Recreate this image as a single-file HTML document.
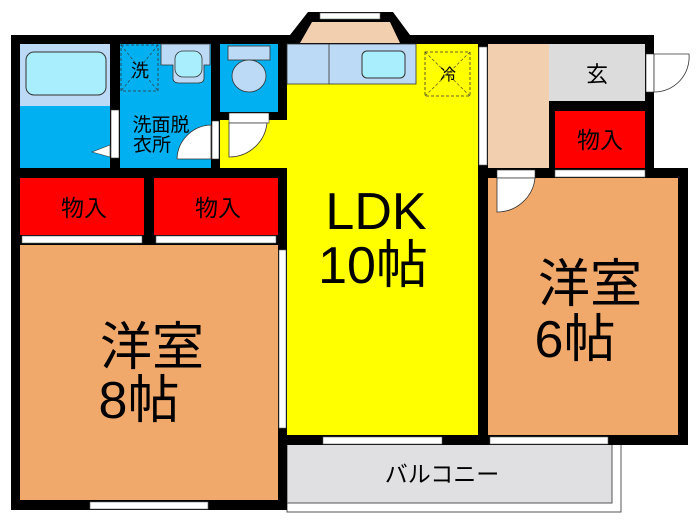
<!DOCTYPE html>
<html><head><meta charset="utf-8"><style>
body{margin:0;background:#fff;}
svg{display:block;font-family:"Liberation Sans","Noto Sans CJK JP",sans-serif;}
</style></head><body>
<svg width="700" height="525" viewBox="0 0 700 525" xmlns="http://www.w3.org/2000/svg">
<rect width="700" height="525" fill="#fff"/>
<rect x="287" y="440" width="334" height="72" fill="#fff" stroke="#555" stroke-width="1"/>
<rect x="287" y="440" width="325" height="63" fill="#e0e0e2" stroke="#555" stroke-width="1"/>
<rect x="11" y="35" width="643" height="143" fill="#000"/>
<rect x="11" y="35" width="276" height="475" fill="#000"/>
<rect x="280" y="35" width="208" height="410" fill="#000"/>
<rect x="478" y="168" width="210" height="277" fill="#000"/>
<polygon points="290,35 308,12 393,12 410,35" fill="#000"/>
<polygon points="300,43 312,22 390,22 400,43" fill="#f2cfae"/>
<rect x="320" y="13" width="60" height="6" fill="#fff" stroke="#666" stroke-width="0.6"/>
<rect x="20" y="44" width="90" height="124" fill="#00b0f0"/>
<rect x="20" y="44" width="90" height="62" fill="#bcd9f5"/>
<rect x="26" y="52" width="80" height="43" rx="8" fill="#a8eefc" stroke="#333" stroke-width="1"/>
<rect x="111" y="110" width="8" height="48" fill="#fff" stroke="#333" stroke-width="0.6"/>
<polygon points="110,145 92,152 110,157" fill="#fff" stroke="#333" stroke-width="0.6"/>
<rect x="120" y="44" width="91" height="124" fill="#00b0f0"/>
<rect x="121" y="45" width="37" height="46" fill="none" stroke="#333" stroke-width="0.8" stroke-dasharray="3,2"/>
<line x1="121" y1="45" x2="158" y2="91" stroke="#333" stroke-width="0.6" stroke-dasharray="3,2"/>
<line x1="158" y1="45" x2="121" y2="91" stroke="#333" stroke-width="0.6" stroke-dasharray="3,2"/>
<text x="140" y="77" font-size="18" text-anchor="middle" fill="#000">洗</text>
<path d="M161,44 H210 V65 H204 V78 Q204,83 198,83 H179 Q173,83 173,78 V65 H161 Z" fill="#bcd9f5" stroke="#333" stroke-width="0.8"/>
<rect x="175" y="51" width="27" height="26" rx="8" fill="#a8eefc" stroke="#333" stroke-width="0.8"/>
<text x="161" y="131" font-size="19" text-anchor="middle" fill="#000">洗面脱</text>
<text x="152" y="151" font-size="19" text-anchor="middle" fill="#000">衣所</text>
<path d="M211,125 A35,35 0 0 0 177,159 H211 Z" fill="#fff" stroke="#333" stroke-width="0.8"/>
<rect x="212" y="121" width="7" height="38" fill="#fff" stroke="#333" stroke-width="0.6"/>
<rect x="220" y="44" width="58" height="68" fill="#00b0f0"/>
<rect x="228" y="46" width="42" height="14" fill="#bcd9f5" stroke="#333" stroke-width="0.8"/>
<ellipse cx="249" cy="76" rx="17" ry="16" fill="#bcd9f5" stroke="#333" stroke-width="0.8"/>
<rect x="287" y="44" width="191" height="391" fill="#ffff00"/>
<rect x="220" y="120" width="67" height="48" fill="#ffff00"/>
<rect x="229" y="113" width="40" height="10" fill="#fff" stroke="#333" stroke-width="0.6"/>
<path d="M229,123 V157 A38,38 0 0 0 267,123 Z" fill="#fff" stroke="#333" stroke-width="0.8"/>
<rect x="287" y="44" width="129" height="40" fill="#bcd9f5" stroke="#333" stroke-width="0.8"/>
<line x1="329" y1="44" x2="329" y2="84" stroke="#333" stroke-width="0.8"/>
<rect x="362" y="51" width="43" height="27" rx="5" fill="#a8eefc" stroke="#333" stroke-width="1"/>
<rect x="425" y="52" width="45" height="44" fill="none" stroke="#333" stroke-width="0.8" stroke-dasharray="3,2"/>
<line x1="425" y1="52" x2="470" y2="96" stroke="#333" stroke-width="0.6" stroke-dasharray="3,2"/>
<line x1="470" y1="52" x2="425" y2="96" stroke="#333" stroke-width="0.6" stroke-dasharray="3,2"/>
<text x="448" y="80" font-size="16" text-anchor="middle" fill="#000">冷</text>
<text x="376" y="229" font-size="52" text-anchor="middle" fill="#000">LDK</text>
<text x="373" y="283" font-size="52" text-anchor="middle" fill="#000">10帖</text>
<rect x="479" y="47" width="8" height="118" fill="#fff" stroke="#666" stroke-width="0.6"/>
<rect x="488" y="44" width="61" height="124" fill="#f2cfae"/>
<rect x="549" y="44" width="96" height="57" fill="#dcdcdc"/>
<text x="597" y="82" font-size="22" text-anchor="middle" fill="#000">玄</text>
<rect x="646" y="54" width="8" height="38" fill="#fff" stroke="#333" stroke-width="0.6"/>
<path d="M654,54 H689 A35,35 0 0 1 654,92 Z" fill="#fff" stroke="#333" stroke-width="0.8"/>
<rect x="555" y="111" width="90" height="57" fill="#ff0000"/>
<text x="600" y="148" font-size="23" text-anchor="middle" fill="#000">物入</text>
<rect x="555" y="170" width="90" height="7" fill="#fff" stroke="#666" stroke-width="0.6"/>
<rect x="488" y="178" width="190" height="257" fill="#f0a96a"/>
<rect x="497" y="170" width="38" height="8" fill="#fff" stroke="#333" stroke-width="0.6"/>
<path d="M497,178 V212 A38,38 0 0 0 535,178 Z" fill="#fff" stroke="#333" stroke-width="0.8"/>
<text x="590" y="302" font-size="52" text-anchor="middle" fill="#000">洋室</text>
<text x="575" y="357" font-size="52" text-anchor="middle" fill="#000">6帖</text>
<rect x="20" y="178" width="124" height="57" fill="#ff0000"/>
<rect x="154" y="178" width="124" height="57" fill="#ff0000"/>
<text x="84" y="216" font-size="23" text-anchor="middle" fill="#000">物入</text>
<text x="218" y="216" font-size="23" text-anchor="middle" fill="#000">物入</text>
<rect x="22" y="236" width="120" height="7" fill="#fff" stroke="#666" stroke-width="0.6"/>
<rect x="156" y="236" width="120" height="7" fill="#fff" stroke="#666" stroke-width="0.6"/>
<rect x="20" y="245" width="258" height="255" fill="#f0a96a"/>
<text x="152" y="365" font-size="52" text-anchor="middle" fill="#000">洋室</text>
<text x="139" y="418" font-size="52" text-anchor="middle" fill="#000">8帖</text>
<rect x="279" y="250" width="7" height="178" fill="#fff" stroke="#666" stroke-width="0.6"/>
<rect x="90" y="502" width="118" height="7" fill="#fff" stroke="#666" stroke-width="0.6"/>
<rect x="323" y="437" width="119" height="7" fill="#fff" stroke="#666" stroke-width="0.6"/>
<rect x="490" y="437" width="118" height="7" fill="#fff" stroke="#666" stroke-width="0.6"/>
<text x="442" y="482" font-size="23" text-anchor="middle" fill="#000">バルコニー</text>
</svg>
</body></html>
